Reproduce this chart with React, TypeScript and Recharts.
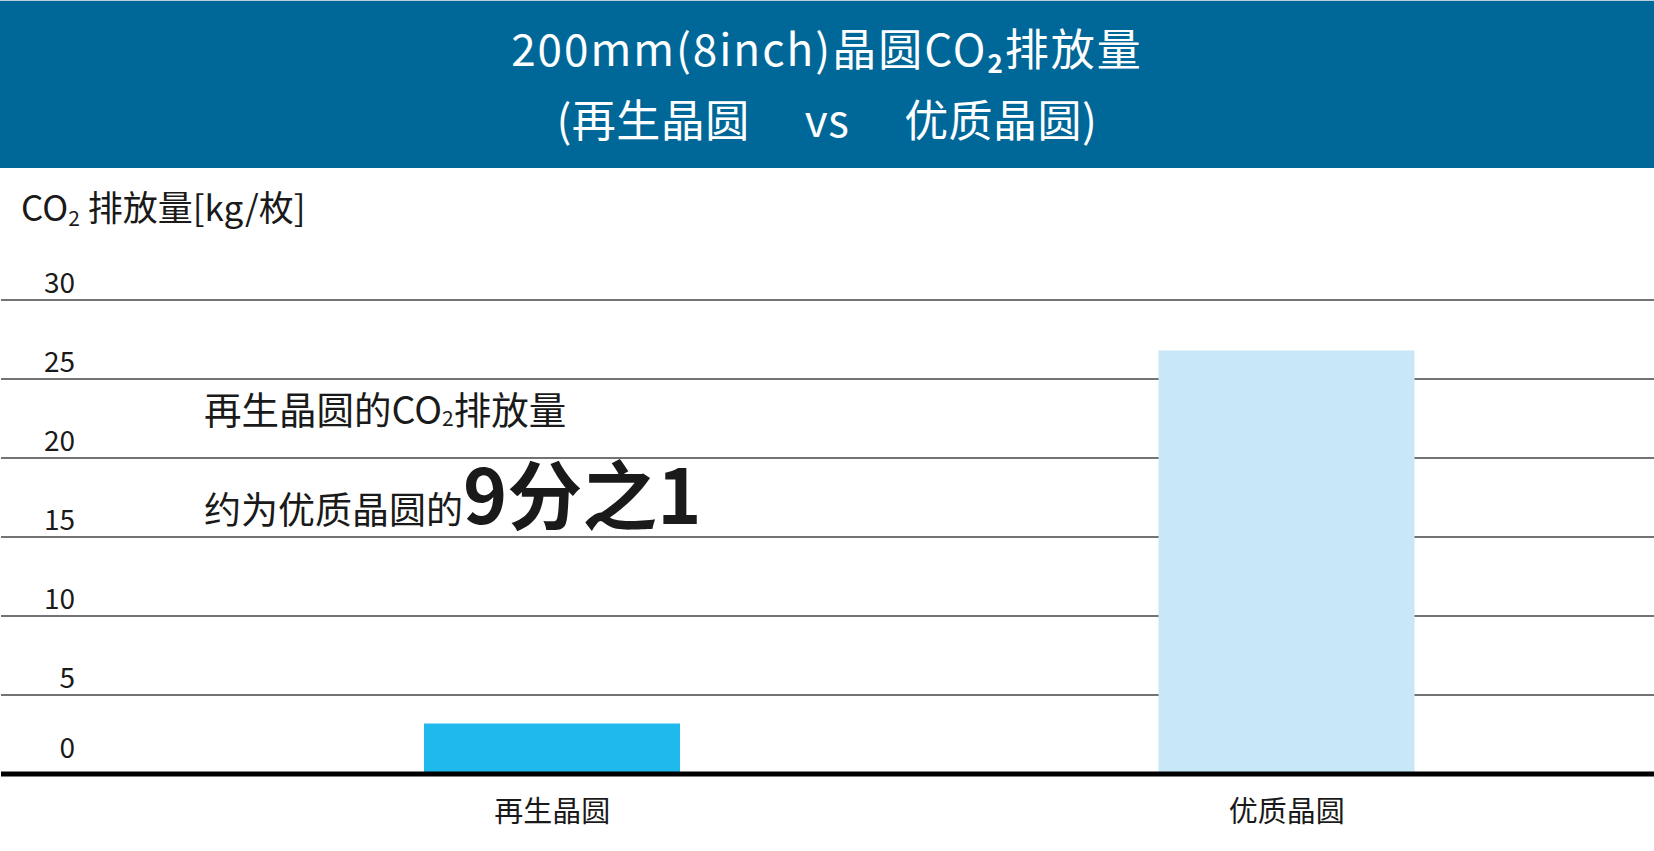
import React from 'react'
import { BarChart, Bar, XAxis, YAxis, CartesianGrid, Cell } from 'recharts'

const categories = ['再生晶圆', '优质晶圆']
const emissions = [3.2, 26.8]
const barColors = ['#1fb9ee', '#c8e7f9']
const yTicks = [0, 5, 10, 15, 20, 25, 30]

const data = categories.map((name, i) => ({ name, value: emissions[i] }))

const FONT = '"Noto Sans CJK SC", "Noto Sans", sans-serif'
const INK = '#1a1a1a'

function YTick({ x, y, payload }: any) {
  // the zero label sits a bit higher above the thick axis line
  const lift = payload.value === 0 ? 16 : 7
  return (
    <text x={x + 74} y={y - lift} textAnchor="end" fontSize={28} fontFamily={FONT} fill={INK}>
      {payload.value}
    </text>
  )
}

function XTick({ x, y, payload }: any) {
  return (
    <text x={x} y={y + 48} textAnchor="middle" fontSize={29} fontFamily={FONT} fill={INK}>
      {payload.value}
    </text>
  )
}

export default function App() {
  return (
    <div style={{ position: 'absolute', left: 0, top: 0, width: 1654, height: 851, background: '#fff' }}>
      <BarChart
        width={1654}
        height={851}
        data={data}
        margin={{ top: 300, right: 0, bottom: 17, left: 0 }}
      >
        <CartesianGrid vertical={false} stroke="#444" strokeWidth={1.5} />
        <XAxis
          dataKey="name"
          height={60}
          padding={{ left: 184, right: 0 }}
          axisLine={{ stroke: '#000', strokeWidth: 5 }}
          tickLine={false}
          tickSize={0}
          tickMargin={0}
          tick={<XTick />}
        />
        <YAxis
          width={1}
          domain={[0, 30]}
          ticks={yTicks}
          interval={0}
          axisLine={false}
          tickLine={false}
          tickSize={0}
          tickMargin={0}
          tick={<YTick />}
        />
        <Bar dataKey="value" barSize={256} isAnimationActive={false}>
          {data.map((d, i) => (
            <Cell key={d.name} fill={barColors[i]} />
          ))}
        </Bar>
      </BarChart>

      <svg
        width={1654}
        height={851}
        style={{ position: 'absolute', left: 0, top: 0, pointerEvents: 'none' }}
        fontFamily={FONT}
      >
        <rect x={0} y={0} width={1654} height={1} fill="#b9cfdb" />
        <rect x={0} y={1} width={1654} height={167} fill="#006898" />
        <text x={827} y={66} textAnchor="middle" fill="#fff" fontSize={44} letterSpacing={2}>
          200mm(8inch)晶圆CO
          <tspan fontSize={26} fontWeight={700} dy={7}>2</tspan>
          <tspan dy={-7}>排放量</tspan>
        </text>
        <text x={827} y={137} textAnchor="middle" fill="#fff" fontSize={44} letterSpacing={0.5}>
          (再生晶圆{'\u3000\u00a0'}vs{'\u3000\u00a0'}优质晶圆)
        </text>

        <text x={21} y={221} fill={INK} fontSize={35}>
          CO
          <tspan fontSize={21} dy={5}>2</tspan>
          <tspan dy={-5}>{'\u00a0'}排放量[kg/枚]</tspan>
        </text>

        <text x={204} y={424} fill={INK} fontSize={37.5}>
          再生晶圆的CO
          <tspan fontSize={21} dy={2}>2</tspan>
          <tspan dy={-2}>排放量</tspan>
        </text>
        <text x={204} y={524} fill={INK}>
          <tspan fontSize={37}>约为优质晶圆的</tspan>
          <tspan fontSize={75} fontWeight={700}>9分之1</tspan>
        </text>
      </svg>
    </div>
  )
}
